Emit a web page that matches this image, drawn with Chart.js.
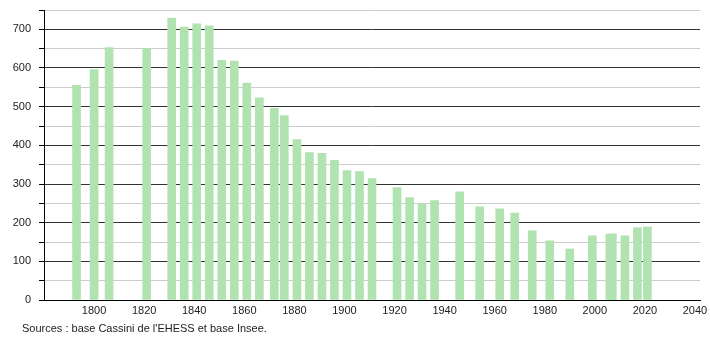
<!DOCTYPE html>
<html>
<head>
<meta charset="utf-8">
<script src="https://cdn.jsdelivr.net/npm/chart.js@4"></script>
<style>
  body { margin: 0; background: #fff; }
  #wrap { position: relative; width: 710px; height: 340px; }
  #source {
    position: absolute; left: 22px; top: 322px;
    font: 11px "Liberation Sans", Arial, sans-serif; line-height: 13px; color: #222;
  }
</style>
</head>
<body>
<div id="wrap">
  <canvas id="chart" width="710" height="340"></canvas>
  <div id="source"></div>
</div>
<script>
const years = [1793, 1800, 1806, 1821, 1831, 1836, 1841, 1846, 1851, 1856, 1861, 1866, 1872, 1876, 1881, 1886, 1891, 1896, 1901, 1906, 1911, 1921, 1926, 1931, 1936, 1946, 1954, 1962, 1968, 1975, 1982, 1990, 1999, 2006, 2007, 2012, 2017, 2021];
const population = [555, 596, 653, 650, 729, 706, 714, 709, 620, 618, 561, 523, 496, 477, 415, 381, 379, 361, 335, 332, 314, 291, 265, 249, 257, 280, 241, 236, 225, 179, 153, 132, 166, 170, 171, 166, 187, 189];
const xTicks = [1800, 1820, 1840, 1860, 1880, 1900, 1920, 1940, 1960, 1980, 2000, 2020, 2040];
const yTicks = [0, 100, 200, 300, 400, 500, 600, 700];
const source = "Sources : base Cassini de l'EHESS et base Insee.";

document.getElementById("source").textContent = source;

const points = years.map((y, i) => ({ x: y, y: population[i] }));

new Chart(document.getElementById("chart"), {
  type: "bar",
  data: {
    datasets: [{
      data: points,
      backgroundColor: "#b0e3b0",
      barThickness: 8
    }]
  },
  options: {
    responsive: false,
    animation: false,
    layout: { padding: { left: 0, right: 10, top: 10, bottom: 20 } },
    plugins: {
      legend: { display: false },
      tooltip: { enabled: false }
    },
    scales: {
      x: {
        type: "linear",
        offset: false,
        min: 1780,
        max: 2042,
        afterBuildTicks: s => { s.ticks = xTicks.map(v => ({ value: v })); },
        afterFit: s => { s.height = 20; s.paddingLeft = 0; s.paddingRight = 0; },
        grid: { display: true, drawOnChartArea: false, drawTicks: false },
        border: { display: true, color: "#000", width: 1 },
        ticks: {
          padding: 4,
          maxRotation: 0,
          color: "#222",
          font: { family: "Liberation Sans", size: 11 },
          callback: v => String(v)
        }
      },
      y: {
        min: 0,
        max: 750,
        afterBuildTicks: s => {
          const t = [];
          for (let v = 0; v <= 750; v += 25) t.push({ value: v });
          s.ticks = t;
        },
        afterFit: s => { s.width = 44; s.paddingTop = 0; s.paddingBottom = 0; },
        grid: {
          color: c => yTicks.includes(c.tick.value) ? "#333" : "#cccccc",
          tickColor: "#000",
          tickLength: 5,
          lineWidth: 1
        },
        border: { display: true, color: "#000", width: 1 },
        ticks: {
          padding: 8,
          color: "#222",
          font: { family: "Liberation Sans", size: 11 },
          callback: v => yTicks.includes(v) ? String(v) : ""
        }
      }
    }
  }
});
</script>
</body>
</html>
